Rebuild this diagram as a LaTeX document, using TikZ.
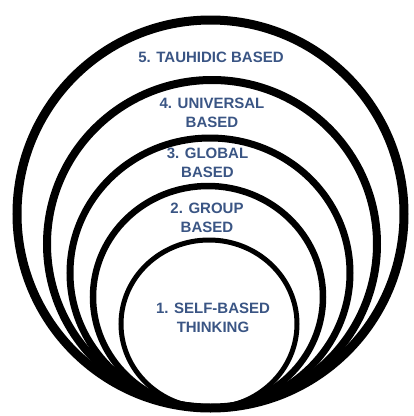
\documentclass[tikz,border=0pt]{standalone}
\usepackage{fontspec}
\setmainfont{Liberation Sans}
\definecolor{labelblue}{HTML}{3A5584}
\begin{document}
\begin{tikzpicture}[x=1pt,y=-1pt,
  ring/.style={draw=black},
  lbl/.style={text=labelblue, align=center, inner sep=0pt,
    font=\bfseries\fontsize{15}{19}\selectfont}]
\useasboundingbox (0,0) rectangle (414,416);
% nested circles, all touching at the bottom
\draw[ring, line width=9pt]   (210.5,214) ellipse [x radius=193.5, y radius=194];
\draw[ring, line width=8pt]   (212,244)   ellipse [x radius=165, y radius=164];
\draw[ring, line width=7pt]   (210,273)   ellipse [x radius=140, y radius=135];
\draw[ring, line width=6.5pt] (208,297)   ellipse [x radius=115, y radius=111];
\draw[ring, line width=5pt]   (209,324)   ellipse [x radius=88,  y radius=84];
% level labels
\node[lbl] (l5) at (211,57)    {5. TAUHIDIC BASED};
\node[lbl] (l4) at (212,112.5) {4. UNIVERSAL\\BASED};
\node[lbl] (l3) at (207.5,162.5) {3. GLOBAL\\BASED};
\node[lbl] (l2) at (207,218)   {2. GROUP\\BASED};
\node[lbl] (l1) at (213,317.5) {1. SELF-BASED\\THINKING};
\end{tikzpicture}
\end{document}
